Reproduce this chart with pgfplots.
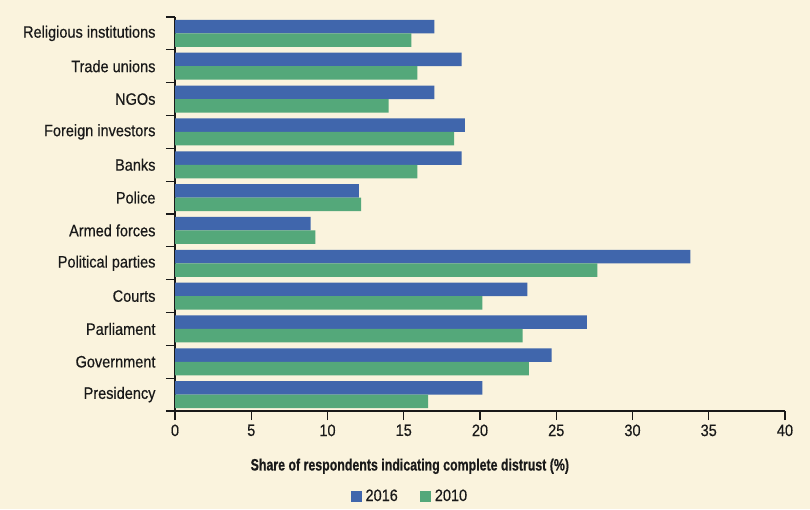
\documentclass[border=0pt]{standalone}
\usepackage{pgfplots}
\pgfplotsset{compat=1.18}
\usepackage{fontspec}
\setmainfont{Liberation Sans}[FakeStretch=0.88, FakeBold=0.5, BoldFeatures={FakeStretch=0.75}]
\definecolor{bgc}{RGB}{250,243,221}
\definecolor{c2016}{RGB}{64,102,172}
\definecolor{c2010}{RGB}{84,168,122}
\definecolor{txt}{RGB}{25,25,25}

\begin{document}
\begin{tikzpicture}
\fill[bgc] (0,0) rectangle (810pt,509pt);
\begin{axis}[
  at={(175pt,98pt)}, anchor=south west,
  scale only axis,
  width=610pt, height=394pt,
  xbar, bar width=13.5pt,
  xmin=0, xmax=40,
  ymin=-0.5, ymax=11.5,
  axis lines*=left,
  axis line style={txt, line width=1.3pt},
  tick style={txt, line width=1.3pt},
  tick align=outside,
  major tick length=9pt,
  xtick={0,5,...,40},
  ytick={-0.5,0.5,...,11.5},
  yticklabels={},
  extra y ticks={0,...,11},
  extra y tick labels={Presidency,Government,Parliament,Courts,Political parties,Armed forces,Police,Banks,Foreign investors,NGOs,Trade unions,Religious institutions},
  extra y tick style={major tick length=0pt, yticklabel style={xshift=-16pt}},
  tick label style={font=\fontsize{16.5}{19}\selectfont, text=txt},
  /pgf/number format/assume math mode=true,
  xticklabel style={yshift=-1pt},
  xlabel={\bfseries Share of respondents indicating complete distrust (\%)},
  xlabel style={font=\fontsize{16.5}{19}\selectfont, text=txt, at={(axis description cs:0.385,0)}, anchor=north, yshift=-44pt},
  legend style={draw=none, fill=none, font=\fontsize{16.5}{19}\selectfont, text=txt,
    at={(axis description cs:0.385,0)}, anchor=center, yshift=-85pt,
    /tikz/every odd column/.append style={column sep=2pt},
    /tikz/every even column/.append style={column sep=20pt}},
  legend columns=-1,
  legend image code/.code={\fill[#1] (0pt,-5.5pt) rectangle (11pt,5.5pt);},
]
\addplot[fill=c2016, draw=none, bar shift=6.75pt] coordinates {
  (20.15,0) (24.7,1) (27.0,2) (23.1,3) (33.8,4) (8.9,5)
  (12.05,6) (18.8,7) (19.0,8) (17.0,9) (18.8,10) (17.0,11)
};
\addlegendentry{2016}
\addplot[fill=c2010, draw=none, bar shift=-6.75pt] coordinates {
  (16.6,0) (23.2,1) (22.8,2) (20.15,3) (27.7,4) (9.2,5)
  (12.2,6) (15.9,7) (18.3,8) (14.0,9) (15.9,10) (15.5,11)
};
\addlegendentry{2010}
\end{axis}
\end{tikzpicture}
\end{document}
